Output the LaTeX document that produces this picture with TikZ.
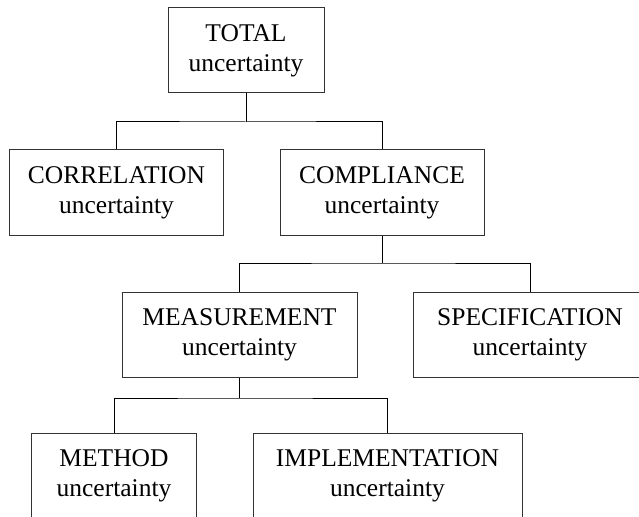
\documentclass[tikz,border=0pt]{standalone}
\usepackage{fontspec}
\setmainfont{Liberation Serif}
\begin{document}
\begin{tikzpicture}[x=1bp, y=-1bp,
  box/.style={draw=black!80, line width=1bp, rectangle, inner sep=0pt,
    align=center, minimum height=85bp,
    font=\fontsize{25.5bp}{30bp}\selectfont},
  link/.style={draw=black, line width=1bp}]
  \useasboundingbox (0,0) rectangle (639,517);
  \clip (0,0) rectangle (639,517);

  % uncertainty tree
  \node[box, minimum width=156bp] (total) at (246,50.5) {TOTAL\\uncertainty};
  \node[box, minimum width=213bp] (corr) at (116.5,192.5) {CORRELATION\\uncertainty};
  \node[box, minimum width=204bp] (comp) at (382,192.5) {COMPLIANCE\\uncertainty};
  \node[box, minimum width=235bp] (meas) at (239.5,334.5) {MEASUREMENT\\uncertainty};
  \node[box, minimum width=234bp] (spec) at (530,334.5) {SPECIFICATION\\uncertainty};
  \node[box, minimum width=164bp] (meth) at (114,475.5) {METHOD\\uncertainty};
  \node[box, minimum width=269bp] (impl) at (387.5,475.5) {IMPLEMENTATION\\uncertainty};

  % branching points
  \coordinate (j1) at (total.south |- 0,122);
  \coordinate (j2) at (comp.south |- 0,263);
  \coordinate (j3) at (meas.south |- 0,398);

  % connectors
  \draw[link] (total.south) -- (j1);
  \draw[link] (corr.north) |- (j1) -| (comp.north);
  \draw[link] (comp.south) -- (j2);
  \draw[link] (meas.north) |- (j2) -| (spec.north);
  \draw[link] (meas.south) -- (j3);
  \draw[link] (meth.north) |- (j3) -| (impl.north);
\end{tikzpicture}
\end{document}
